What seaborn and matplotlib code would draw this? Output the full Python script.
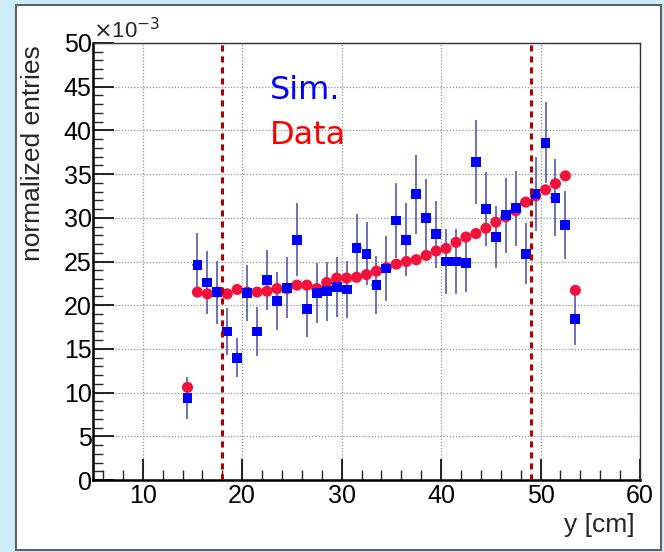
import numpy as np
import pandas as pd
import seaborn as sns
import matplotlib.pyplot as plt
from matplotlib.patches import Rectangle
from matplotlib.ticker import MultipleLocator

# bin centres in y [cm]
y_cm = np.arange(14.5, 54.0, 1.0)

# simulation (x1e-3) with errors
sim = [9.35, 24.6, 22.6, 21.5, 17.0, 14.0, 21.4, 17.0, 22.9, 20.5,
       22.0, 27.5, 19.6, 21.4, 21.6, 22.1, 21.8, 26.5, 25.9, 22.3,
       24.2, 29.7, 27.5, 32.7, 30.0, 28.1, 25.0, 25.0, 24.8, 36.4,
       31.0, 27.8, 30.3, 31.1, 25.9, 32.7, 38.6, 32.3, 29.2, 18.4]
sim_err = [2.4, 3.7, 3.6, 3.6, 2.7, 2.2, 3.2, 2.8, 3.4, 3.3,
           3.5, 4.2, 3.2, 3.4, 3.4, 3.4, 3.3, 3.9, 3.6, 3.3,
           3.7, 4.3, 4.2, 4.5, 4.4, 3.8, 3.7, 3.7, 3.3, 4.8,
           4.2, 3.6, 4.3, 4.3, 3.5, 4.2, 4.6, 4.4, 3.9, 3.0]

# data (x1e-3)
data = [10.6, 21.5, 21.3, 21.5, 21.3, 21.8, 21.5, 21.5, 21.6, 21.9,
        21.9, 22.3, 22.3, 21.9, 22.6, 23.1, 23.1, 23.2, 23.5, 23.9,
        24.3, 24.7, 25.0, 25.2, 25.7, 26.2, 26.5, 27.2, 27.8, 28.2,
        28.8, 29.5, 30.1, 30.8, 31.8, 32.5, 33.2, 33.9, 34.8, 21.7]

cut_lines = [18, 49]

df = pd.DataFrame({"y": y_cm, "sim": sim, "sim_err": sim_err, "data": data})

sns.set_style("white")
plt.rcParams['font.family'] = ['Liberation Sans', 'DejaVu Sans']

W, H = 664, 552
fig = plt.figure(figsize=(W / 100, H / 100), dpi=100)
fig.patch.set_facecolor("#cdeef8")
fig.patches.append(Rectangle((16 / W, 1 - 550 / H), 645 / W, 545 / H,
                             transform=fig.transFigure, facecolor="white",
                             edgecolor="#606060", linewidth=1.5, zorder=-10))

ax = fig.add_axes([93 / W, 1 - 480 / H, 547 / W, 437 / H])
ax.set_facecolor("white")

ax.errorbar(df["y"], df["sim"], yerr=df["sim_err"], xerr=0.5, fmt="none",
            ecolor="#4a4aa8", elinewidth=1.3, alpha=0.85, zorder=2)
sns.scatterplot(data=df, x="y", y="data", ax=ax, color="#f2123c", marker="o",
                s=64, edgecolor="none", zorder=3, legend=False)
sns.scatterplot(data=df, x="y", y="sim", ax=ax, color="#0000ff", marker="s",
                s=50, edgecolor="none", zorder=4, legend=False)

for xc in cut_lines:
    ax.axvline(xc, color="#b00000", linestyle=(0, (2, 1.6)), linewidth=2.2, zorder=5)

ax.set_xlim(5, 60)
ax.set_ylim(0, 50)
ax.xaxis.set_major_locator(MultipleLocator(10))
ax.xaxis.set_minor_locator(MultipleLocator(2))
ax.yaxis.set_major_locator(MultipleLocator(5))
ax.yaxis.set_minor_locator(MultipleLocator(1))
ax.tick_params(which="major", direction="in", length=15, width=1.2, labelsize=18,
               bottom=True, left=True, top=False, right=False, pad=3,
               colors="black")
ax.tick_params(which="minor", direction="in", length=7, width=1.0,
               bottom=True, left=True, top=False, right=False)
ax.tick_params(axis="y", which="major", pad=1)
ax.grid(True, which="major", linestyle=(0, (1, 1.5)), color="#909090", linewidth=0.9)
ax.set_axisbelow(True)

for side in ["left", "bottom"]:
    ax.spines[side].set_linewidth(1.8)
    ax.spines[side].set_color("black")
for side in ["top", "right"]:
    ax.spines[side].set_linewidth(1.0)
    ax.spines[side].set_color("#333333")

ax.set_xlabel("y [cm]", fontsize=19, ha="right")
ax.xaxis.set_label_coords(0.99, -0.075)
ax.set_ylabel("normalized entries", fontsize=19, ha="right")
ax.yaxis.set_label_coords(-0.087, 0.995)
ax.text(0.0, 1.0, r"$\times$10$^{-3}$", transform=ax.transAxes, fontsize=16,
        ha="left", va="bottom")

fig.text(270 / W, 1 - 99 / H, "Sim.", fontsize=23, color="#0000ff",
         family="DejaVu Sans", ha="left", va="baseline")
fig.text(270 / W, 1 - 144 / H, "Data", fontsize=23, color="#ff0000",
         family="DejaVu Sans", ha="left", va="baseline")

plt.savefig("out.png", dpi=100, facecolor=fig.get_facecolor())
